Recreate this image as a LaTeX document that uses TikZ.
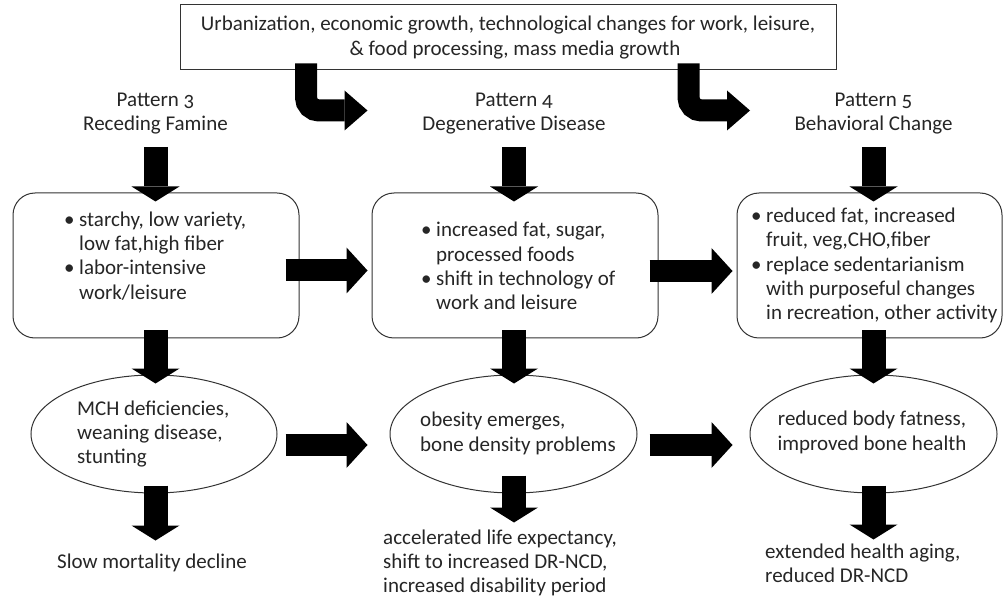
\documentclass[tikz,border=0pt]{standalone}
\usepackage{fontspec}
\setmainfont{Carlito}[Numbers=OldStyle]
\usetikzlibrary{arrows.meta,shapes.geometric,calc}
\newcommand\myblt{\makebox[15pt][l]{\textbullet}}
\newcommand\myind{\hspace*{15pt}}
\begin{document}
\begin{tikzpicture}[x=1pt,y=-1pt,
  txt/.style={font=\fontsize{21}{24.3}\selectfont, text=black!85, inner sep=0pt},
  frame/.style={draw=black!80, line width=1pt, fill=white},
  rbox/.style={frame, rounded corners=22pt, inner sep=0pt},
  oval/.style={frame, ellipse, inner sep=0pt, minimum width=246pt, minimum height=118pt},
  blk/.style={draw=black, line width=24pt, -{Triangle[length=15pt 0 0,width=48pt 0 0,line width=0pt]}},
  hblk/.style={draw=black, line width=22pt, -{Triangle[length=21pt 0 0,width=46pt 0 0,line width=0pt]}},
  curv/.style={draw=black, line width=22pt, rounded corners=13pt, -{Triangle[length=23pt 0 0,width=40pt 0 0,line width=0pt]}}
]
\fill[white] (0,0) rectangle (1006,601);
\useasboundingbox (0,0) rectangle (1006,601);

% top box
\node[frame, txt, align=center, minimum width=656pt, minimum height=65pt] (top) at (508,37.5)
  {Urbanization, economic growth, technological changes for work, leisure,\\\hspace*{14pt}\& food processing, mass media growth};

% titles
\node[txt, align=center] (t3) at (155.5,113.5) {Pattern 3\\Receding Famine};
\node[txt, align=center] (t4) at (514,113.5) {Pattern 4\\Degenerative Disease};
\node[txt, align=center] (t5) at (873.5,113.5) {Pattern 5\\Behavioral Change};

% boxes
\node[rbox, minimum width=286pt, minimum height=145pt] (b1) at (156,265.5) {};
\node[rbox, minimum width=286pt, minimum height=145pt] (b2) at (515,265.5) {};
\node[rbox, minimum width=265pt, minimum height=145pt] (b3) at (869.5,265.5) {};
\node[txt, align=left, anchor=west] (b1t) at (64,256) {\myblt starchy, low variety,\\\myind low fat,high fiber\\\myblt labor-intensive\\\myind work/leisure};
\node[txt, align=left, anchor=west] (b2t) at (421,266) {\myblt increased fat, sugar,\\\myind processed foods\\\myblt shift in technology of\\\myind work and leisure};
\node[txt, align=left, anchor=west] (b3t) at (751,265.5) {\myblt reduced fat, increased\\\myind fruit, veg,CHO,fiber\\\myblt replace sedentarianism\\\myind with purposeful changes\\\myind in recreation, other activity};

% ellipses
\node[oval] (e1) at (154,434) {};
\node[oval, minimum width=247pt] (e2) at (513.5,434) {};
\node[oval, minimum width=247pt] (e3) at (873.5,434) {};
\node[txt, align=left, anchor=west] (e1t) at (77,434) {MCH deficiencies,\\weaning disease,\\stunting};
\node[txt, align=left, anchor=west] (e2t) at (420,433.5) {obesity emerges,\\bone density problems};
\node[txt, align=center] (e3t) at (872,432.5) {reduced body fatness,\\improved bone health};

% outcomes
\node[txt, anchor=west] (o1) at (57,563) {Slow mortality decline};
\node[txt, align=left, anchor=west] (o2) at (383,563) {accelerated life expectancy,\\shift to increased DR-NCD,\\increased disability period};
\node[txt, align=left, anchor=west] (o3) at (765,563.5) {extended health aging,\\reduced DR-NCD};

% curved arrows from top box
\draw[curv] ($(top.south west)+(126.5,-7)$) |- ($(top.south west)+(188,40)$);
\draw[curv] ($(top.south west)+(509,-7)$) |- ($(top.south west)+(570.5,40)$);

% down arrows title -> box
\draw[blk] ($(t3.center)+(0,33.5)$) -- ($(t3.center |- b1.north)+(0,9)$);
\draw[blk] ($(t4.center)+(0,33.5)$) -- ($(t4.center |- b2.north)+(0,9)$);
\draw[blk] ($(t5.center)+(0,33.5)$) -- ($(t5.center |- b3.north)+(0,9)$);

% box -> ellipse
\draw[blk] ($(t3.center |- b1.south)+(0,-8)$) -- ($(t3.center |- e1.north)+(0,9)$);
\draw[blk] ($(t4.center |- b2.south)+(0,-8)$) -- ($(t4.center |- e2.north)+(0,9)$);
\draw[blk] ($(t5.center |- b3.south)+(0,-8)$) -- ($(t5.center |- e3.north)+(0,9)$);

% ellipse -> outcome
\draw[blk] ($(t3.center |- e1.south)+(0,-8)$) -- ($(t3.center |- e1.south)+(0,47)$);
\draw[blk] ($(t4.center |- e2.south)+(0,-18)$) -- ($(t4.center |- e2.south)+(0,29)$);
\draw[blk] ($(t5.center |- e3.south)+(0,-8)$) -- ($(t5.center |- e3.south)+(0,46)$);

% horizontal arrows
\draw[hblk] ($(b1.east)+(-14,5)$) -- ($(b2.west)+(-4,5)$);
\draw[hblk] ($(b2.east)+(-9,5.5)$) -- ($(b3.west)+(-4,5.5)$);
\draw[hblk] ($(e1.east)+(8,11)$) -- ($(e2.west)+(-22,11)$);
\draw[hblk] ($(e2.east)+(12,11)$) -- ($(e3.west)+(-17,11)$);
\end{tikzpicture}
\end{document}
